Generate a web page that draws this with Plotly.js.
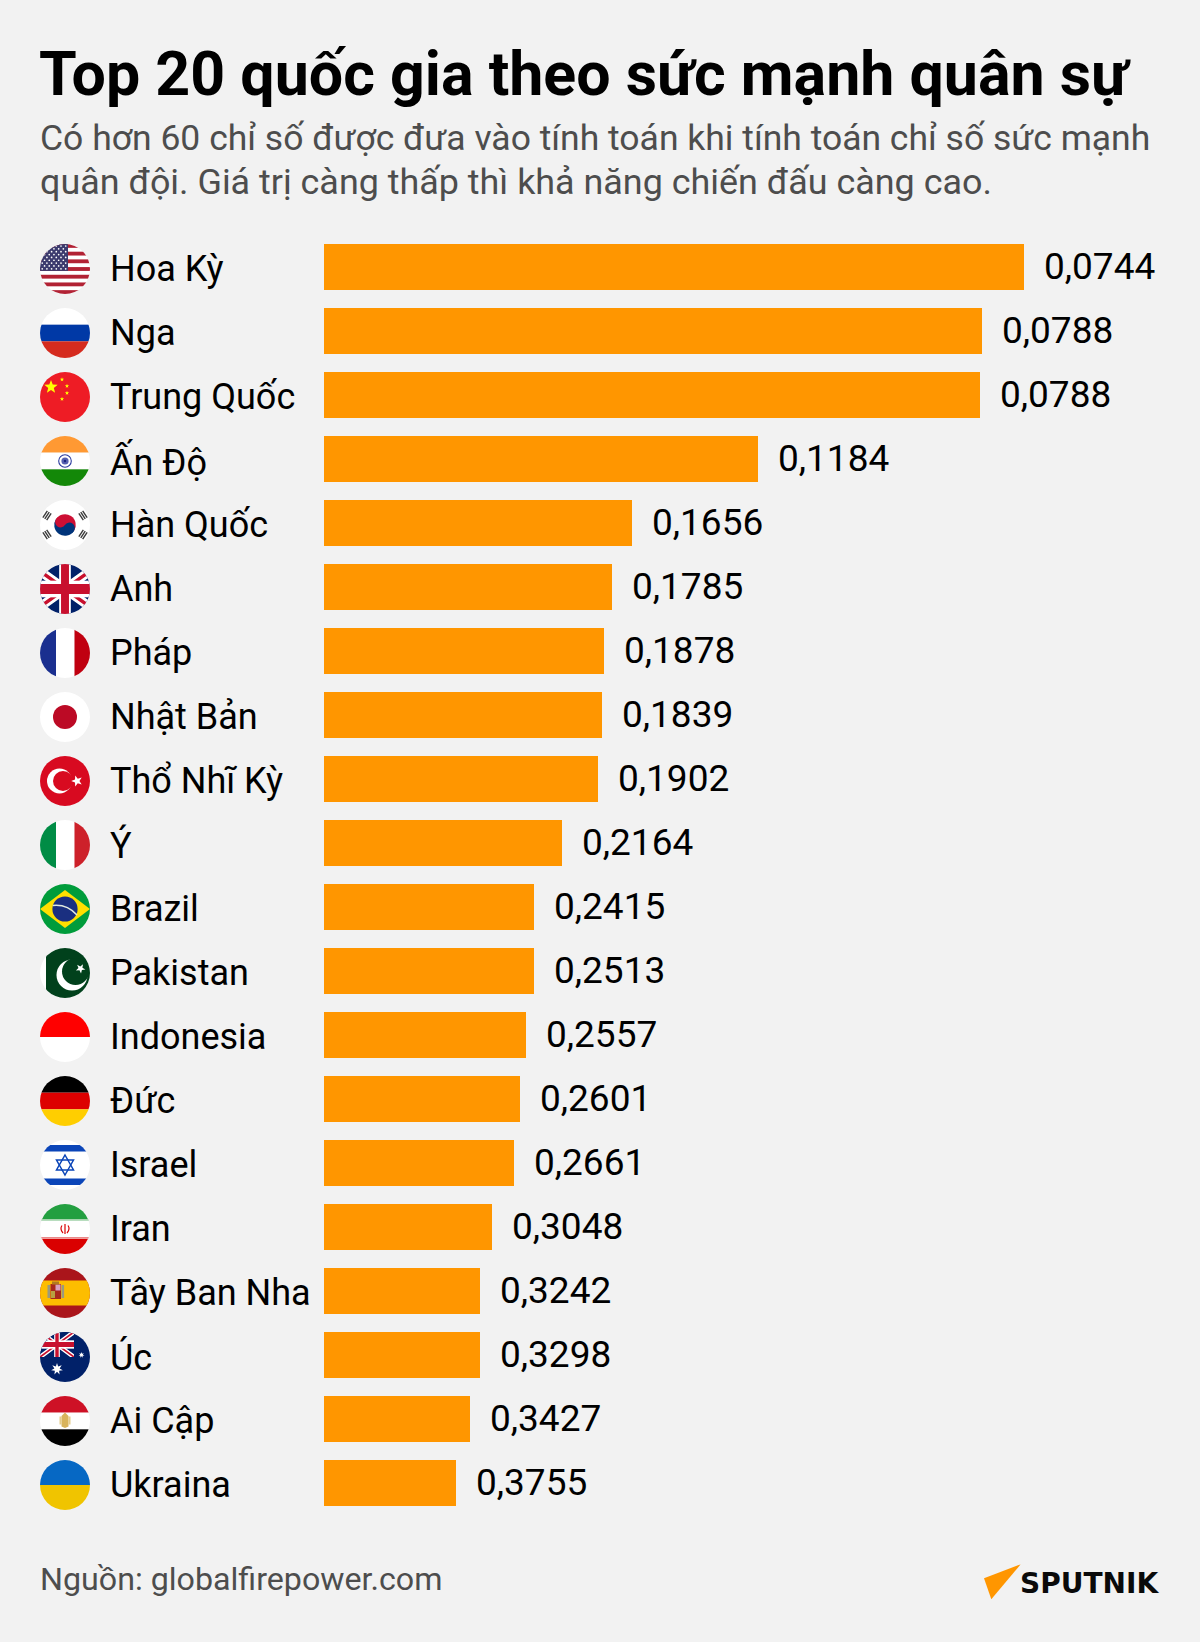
<!DOCTYPE html>
<html>
<head>
<meta charset="utf-8">
<script src="https://cdn.plot.ly/plotly-3.0.1.min.js"></script>
<style>html,body{margin:0;padding:0;background:#f2f2f2}#chart{width:1200px;height:1642px}</style>
</head>
<body>
<div id="chart"></div>
<script>
const countries = ["Hoa Kỳ","Nga","Trung Quốc","Ấn Độ","Hàn Quốc","Anh","Pháp","Nhật Bản","Thổ Nhĩ Kỳ","Ý","Brazil","Pakistan","Indonesia","Đức","Israel","Iran","Tây Ban Nha","Úc","Ai Cập","Ukraina"];
const valueLabels = ["0,0744","0,0788","0,0788","0,1184","0,1656","0,1785","0,1878","0,1839","0,1902","0,2164","0,2415","0,2513","0,2557","0,2601","0,2661","0,3048","0,3242","0,3298","0,3427","0,3755"];
const barLengths = [700,658,656,434,308,288,280,278,274,238,210,210,202,196,190,168,156,156,146,132];
const flagKeys = ["us","ru","cn","in","kr","gb","fr","jp","tr","it","br","pk","id","de","il","ir","es","au","eg","ua"];

const titleText = "Top 20 quốc gia theo sức mạnh quân sự";
const subtitleLines = ["Có hơn 60 chỉ số được đưa vào tính toán khi tính toán chỉ số sức mạnh","quân đội. Giá trị càng thấp thì khả năng chiến đấu càng cao."];
const sourceText = "Nguồn: globalfirepower.com";
const brandText = "SPUTNIK";

const BG = "#f2f2f2", ORANGE = "#ff9600", W = 1200, H = 1642;

function star(cx, cy, r, fill, n = 5, rot = -90, inner = 0.42) {
  let p = [];
  for (let i = 0; i < n * 2; i++) {
    const a = (rot + i * 180 / n) * Math.PI / 180, rr = i % 2 ? r * inner : r;
    p.push((cx + rr * Math.cos(a)).toFixed(2) + "," + (cy + rr * Math.sin(a)).toFixed(2));
  }
  return `<polygon points="${p.join(" ")}" fill="${fill}"/>`;
}
const R = (x, y, w, h, f) => `<rect x="${x}" y="${y}" width="${w}" height="${h}" fill="${f}"/>`;
const C = (x, y, r, f) => `<circle cx="${x}" cy="${y}" r="${r}" fill="${f}"/>`;
function hBands(a, b, c) { return R(0,0,50,16.67,a) + R(0,16.67,50,16.67,b) + R(0,33.33,50,16.67,c); }
function vBands(a, b, c) { return R(0,0,16,50,a) + R(16,0,18.5,50,b) + R(34.5,0,15.5,50,c); }
function union(w, h) {
  return `<svg x="0" y="0" width="${w}" height="${h}" viewBox="0 0 60 30" preserveAspectRatio="none">` +
    R(0,0,60,30,"#012169") +
    `<path d="M0 0L60 30M60 0L0 30" stroke="#fff" stroke-width="6"/>` +
    `<path d="M0 0L60 30M60 0L0 30" stroke="#c8102e" stroke-width="2.4"/>` +
    R(25,0,10,30,"#fff") + R(0,10,60,10,"#fff") + R(27,0,6,30,"#c8102e") + R(0,12,60,6,"#c8102e") + `</svg>`;
}
function usFlag() {
  let s = R(0,0,50,50,"#fff");
  for (let i = 0; i < 13; i += 2) s += R(0, i * 3.846, 50, 3.846, "#b22234");
  s += R(0,0,28,26.9,"#3c3b6e");
  for (let r = 0; r < 9; r++) for (let c = 0; c < (r % 2 ? 5 : 6); c++)
    s += C(2.2 + c * 4.7 + (r % 2 ? 2.35 : 0), 2 + r * 2.85, 0.85, "#fff");
  return s;
}
function trigram(x, y, rot) {
  let s = `<g transform="translate(${x} ${y}) rotate(${rot})" fill="#3a3a3a">`;
  for (let i = -1; i <= 1; i++) s += `<rect x="-4" y="${i * 2.3 - 0.7}" width="8" height="1.4"/>`;
  return s + "</g>";
}
const flags = {
  us: usFlag(),
  ru: hBands("#ffffff", "#0039a6", "#d52b1e"),
  cn: R(0,0,50,50,"#ee1c25") + star(11,15,7,"#ffff00") + star(22,7.5,2.2,"#ffff00") + star(27,14,2.2,"#ffff00") + star(27,21,2.2,"#ffff00") + star(22,27,2.2,"#ffff00"),
  in: hBands("#ff9933", "#ffffff", "#138808") + `<circle cx="25" cy="25" r="6.3" fill="none" stroke="#2a3b9e" stroke-width="1.1"/>` + C(25,25,3.6,"#5560b0") + C(25,25,1.2,"#1a237e"),
  kr: R(0,0,50,50,"#fff") + `<g transform="rotate(33.7 25 25)"><path d="M14.2 25a10.8 10.8 0 0 1 21.6 0z" fill="#cd0f34"/><path d="M14.2 25a10.8 10.8 0 0 0 21.6 0z" fill="#00347a"/>${C(19.6,25,5.4,"#cd0f34")}${C(30.4,25,5.4,"#00347a")}</g>` + trigram(7,15.5,-56) + trigram(43,15.5,56) + trigram(7,34.5,56) + trigram(43,34.5,-56),
  gb: `<svg x="-10" y="0" width="70" height="50" viewBox="0 0 60 30" preserveAspectRatio="none">` + R(0,0,60,30,"#012169") +
      `<path d="M0 0L60 30M60 0L0 30" stroke="#fff" stroke-width="6"/><path d="M0 0L60 30M60 0L0 30" stroke="#c8102e" stroke-width="2.2"/>` +
      R(25,0,10,30,"#fff") + R(0,10,60,10,"#fff") + R(26.6,0,6.8,30,"#c8102e") + R(0,12,60,6,"#c8102e") + `</svg>`,
  fr: vBands("#1a2f8f", "#ffffff", "#c00010"),
  jp: R(0,0,50,50,"#fff") + C(25,25,12,"#bc0a25"),
  tr: R(0,0,50,50,"#d80a20") + C(19.5,25,12.5,"#fff") + C(23,25,10,"#d80a20") + star(37,25,5.8,"#fff",5,180),
  it: vBands("#008c45", "#ffffff", "#cd212a"),
  br: R(0,0,50,50,"#009c3b") + `<polygon points="0,25 25,6 50,25 25,44" fill="#ffdf00"/>` + C(25,25,12.6,"#1a2f80") + `<path d="M12.8 21.5Q27 20 37 31" fill="none" stroke="#dfe8df" stroke-width="1.6"/>`,
  pk: R(0,0,50,50,"#fff") + R(6,0,44,50,"#01411c") + C(32,27,15.5,"#fff") + C(35.5,23.5,13.5,"#01411c") + star(40.5,20.5,5,"#fff",5,-60),
  id: R(0,0,50,25,"#ff0000") + R(0,25,50,25,"#ffffff"),
  de: hBands("#000000", "#dd0000", "#ffce00"),
  il: R(0,0,50,50,"#fff") + R(0,5,50,6.5,"#0b45b8") + R(0,38.5,50,6.5,"#0b45b8") +
      `<g fill="none" stroke="#0b45b8" stroke-width="1.5"><polygon points="25,15 33.5,30 16.5,30"/><polygon points="25,35 33.5,20 16.5,20"/></g>`,
  ir: hBands("#239f40", "#ffffff", "#da0000") + `<path d="M25 20V30M22 21.5Q19.5 25 23 29M28 21.5Q30.5 25 27 29" fill="none" stroke="#da0000" stroke-width="1.2"/>` + R(0,15.2,50,1.5,"#c7e3c9") + R(0,33.4,50,1.5,"#f0b0b0"),
  es: R(0,0,50,50,"#aa151b") + R(0,12.5,50,25,"#fdbd00") + R(7.5,17,2.6,13,"#9a9a80") + R(21.5,17,2.6,13,"#9a9a80") + R(10.5,16,10.5,15,"#a8281c") + R(15.5,16.5,5,6,"#d8a0c0") + R(11,23,4,7,"#b8a040") + R(12,13.5,7,3,"#b07a20"),
  au: R(0,0,50,50,"#012169") + union(34,25) + star(17,37,6,"#fff",7,-90,0.45) + star(41.5,23,3,"#fff",7,-90,0.45),
  eg: hBands("#ce1126", "#ffffff", "#000000") + `<path d="M25 16.5L28.5 20L28.5 30.5L25 32L21.5 30.5L21.5 20z" fill="#d9b45c"/>` + R(19.5,20.5,2,8,"#e6cd8c") + R(28.5,20.5,2,8,"#e6cd8c"),
  ua: R(0,0,50,25,"#0668c4") + R(0,25,50,25,"#f0c400")
};
function uri(svg) { return "data:image/svg+xml;charset=utf-8," + encodeURIComponent(svg); }
function flagUri(k) {
  return uri(`<svg xmlns="http://www.w3.org/2000/svg" width="200" height="200" viewBox="0 0 50 50"><defs><clipPath id="c"><circle cx="25" cy="25" r="25"/></clipPath></defs><g clip-path="url(#c)">${flags[k]}</g></svg>`);
}
const logoMark = uri(`<svg xmlns="http://www.w3.org/2000/svg" width="148" height="140" viewBox="0 0 37 35"><polygon points="0,14 36.7,0 7.3,35" fill="${ORANGE}"/></svg>`);

const PLOT_TOP = 235, PLOT_H = 1280, ROW = 64;
const images = flagKeys.map((k, i) => ({
  source: flagUri(k), xref: "paper", yref: "paper",
  x: 40 / W, y: 1 - (244 + ROW * i - PLOT_TOP) / PLOT_H,
  sizex: 50 / W, sizey: 50 / PLOT_H, xanchor: "left", yanchor: "top", sizing: "stretch", layer: "above"
}));
images.push({ source: logoMark, xref: "paper", yref: "paper", x: 984 / W, y: 1 - (1564.3 - PLOT_TOP) / PLOT_H,
  sizex: 37 / W, sizey: 35 / PLOT_H, xanchor: "left", yanchor: "top", sizing: "stretch", layer: "above" });

const pageText = (text, xPx, baseY, size, color, extra = {}, family = "Roboto, sans-serif") => ({
  text, xref: "paper", yref: "paper", x: xPx / W, y: 1 - (baseY - PLOT_TOP) / PLOT_H,
  xanchor: "left", yanchor: "middle", align: "left", showarrow: false,
  font: { family, size, color, ...extra }
});

const annotations = [];
countries.forEach((c, i) => {
  annotations.push({ text: c, xref: "x", yref: "y", x: -216, y: c, xanchor: "left", yanchor: "middle", showarrow: false, yshift: -2,
    font: { family: "Roboto, sans-serif", size: 36, color: "#000" } });
  annotations.push({ text: valueLabels[i], xref: "x", yref: "y", x: barLengths[i] + 18, y: c, xanchor: "left", yanchor: "middle", showarrow: false, yshift: 1,
    font: { family: "Roboto, sans-serif", size: 37, color: "#000" } });
});
annotations.push(pageText(subtitleLines[0], 38, 138, 35.5, "#4d4d4d"));
annotations.push(pageText(subtitleLines[1], 38, 182, 35.9, "#4d4d4d"));
annotations.push(pageText(sourceText, 38, 1579, 32.2, "#4d4d4d"));
annotations.push(pageText(brandText, 1018, 1583, 28, "#0a0a0a", { weight: 700 }, "'DejaVu Sans', sans-serif"));

Plotly.newPlot("chart", [{
  type: "bar", orientation: "h", y: countries, x: barLengths,
  marker: { color: ORANGE, line: { width: 0 } }, hoverinfo: "skip"
}], {
  width: W, height: H, autosize: false, showlegend: false,
  paper_bgcolor: BG, plot_bgcolor: BG,
  margin: { l: 0, r: 0, t: PLOT_TOP, b: H - PLOT_TOP - PLOT_H, pad: 0 },
  bargap: 18 / 64,
  title: { text: titleText, x: 39 / W, xanchor: "left", xref: "paper", y: 1 - 74 / H, yanchor: "middle",
    font: { family: "Roboto, sans-serif", size: 60.9, color: "#000", weight: 700 } },
  xaxis: { range: [-324, 876], visible: false, fixedrange: true },
  yaxis: { type: "category", categoryorder: "array", categoryarray: countries, range: [19.5, -0.5], visible: false, fixedrange: true },
  images, annotations
}, { displayModeBar: false, staticPlot: true });
</script>
</body>
</html>
